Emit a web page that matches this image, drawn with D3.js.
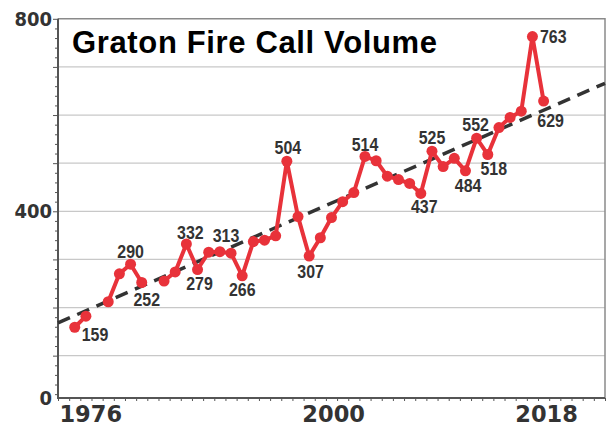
<!DOCTYPE html>
<html><head><meta charset="utf-8">
<script src="https://cdn.jsdelivr.net/npm/d3@7"></script>
<style>
html,body{margin:0;padding:0;background:#fff;}
svg{display:block;}
</style></head><body>
<svg id="chart" width="611" height="427"></svg>
<script>
// ---- data ----
const years = d3.range(1976, 2019);
const calls = [159,182,null,212,270,290,252,null,255,274,332,279,315,316,313,266,337,340,349,504,
               389,307,345,387,420,439,514,505,473,466,458,437,525,493,510,484,552,518,574,595,608,763,629];
const labeledYears = [1976,1981,1982,1986,1987,1990,1991,1995,1997,2002,2007,2008,2011,2012,2013,2017,2018];
const trendYears = [1974.5, 2023.5];
const trendValues = [168, 666];
const xTickLabels = [1976, 2000, 2018];
const yLabelValues = [12, 400, 800];
const yLabelText = ["0", "400", "800"];
const title = "Graton Fire Call Volume";

// ---- layout / style ----
const W = 611, H = 427;
const plot = {left: 58, right: 605, top: 18.8, bottom: 398};
const labelOffsets = {
  1976: [7, 14, "start"], 1981: [0, -6, "middle"], 1982: [5, 23, "middle"],
  1986: [4, -5, "middle"], 1987: [2, 20, "middle"], 1990: [-5, -11, "middle"],
  1991: [0, 20, "middle"], 1995: [1, -7, "middle"], 1997: [1.5, 22, "middle"],
  2002: [0, -5, "middle"], 2007: [3.5, 20, "middle"], 2008: [0, -7, "middle"],
  2011: [2.7, 21.5, "middle"], 2012: [-1, -7.5, "middle"], 2013: [6, 20.5, "middle"],
  2017: [7.5, 6, "start"], 2018: [7, 25.5, "middle"]
};
const xLabelDx = {1976: 16, 2000: -9, 2018: 3};
const red = "#e8323a";
const ink = "#333333";

const data = years.map((y, i) => ({year: y, value: calls[i]}));

const x = d3.scaleLinear().domain([1974.5, 2023.5]).range([plot.left, plot.right]);
const y = d3.scaleLinear().domain([12, 800]).range([plot.bottom, plot.top]);

const svg = d3.select("#chart");

// gridlines
svg.append("g").selectAll("line")
  .data(d3.range(100, 800, 100))
  .join("line")
  .attr("x1", plot.left).attr("x2", plot.right)
  .attr("y1", d => y(d)).attr("y2", d => y(d))
  .attr("stroke", "#c8c8c8").attr("stroke-width", 1.2);

// frame top/right
svg.append("path")
  .attr("d", `M${plot.left},${plot.top}H${plot.right}V${plot.bottom}`)
  .attr("fill", "none").attr("stroke", "#8a8a8a").attr("stroke-width", 1.5);

// y axis: minor + major ticks
const yMinor = svg.append("g").attr("transform", `translate(${plot.left},0)`)
  .call(d3.axisLeft(y).tickValues(d3.range(20, 800, 20).filter(v => v % 100 !== 0)).tickSize(3).tickFormat(""));
const yMajor = svg.append("g").attr("transform", `translate(${plot.left},0)`)
  .call(d3.axisLeft(y).tickValues(d3.range(100, 801, 100)).tickSize(5).tickFormat(""));
[yMinor, yMajor].forEach(g => {
  g.select(".domain").remove();
  g.selectAll("line").attr("stroke", "#555").attr("stroke-width", 1);
});

// x axis minor ticks
const xAx = svg.append("g").attr("transform", `translate(0,${plot.bottom})`)
  .call(d3.axisBottom(x).tickValues(d3.range(1974.5, 2024, 1)).tickSize(3).tickFormat(""));
xAx.select(".domain").remove();
xAx.selectAll("line").attr("stroke", "#555").attr("stroke-width", 1);

// axis lines
svg.append("path")
  .attr("d", `M${plot.left},${plot.top}V${plot.bottom}H${plot.right}`)
  .attr("fill", "none").attr("stroke", "#555").attr("stroke-width", 2);

// y labels
svg.append("g").selectAll("text")
  .data(yLabelValues)
  .join("text")
  .attr("x", plot.left - 6)
  .attr("y", d => y(d))
  .attr("dy", "0.36em")
  .attr("text-anchor", "end")
  .attr("font-family", "'DejaVu Sans Condensed', 'DejaVu Sans', sans-serif")
  .attr("font-stretch", "condensed")
  .attr("font-weight", "bold")
  .attr("font-size", 20)
  .attr("fill", ink)
  .text((d, i) => yLabelText[i]);

// x labels
svg.append("g").selectAll("text")
  .data(xTickLabels)
  .join("text")
  .attr("x", d => x(d) + xLabelDx[d])
  .attr("y", 421.5)
  .attr("text-anchor", "middle")
  .attr("font-family", "'DejaVu Sans', sans-serif")
  .attr("font-weight", "bold")
  .attr("font-size", 22.5)
  .attr("fill", ink)
  .text(d => d);

// title
svg.append("text")
  .attr("x", 72).attr("y", 53)
  .attr("font-family", "'Liberation Sans', Arial, sans-serif")
  .attr("font-weight", "bold")
  .attr("font-size", 31)
  .attr("textLength", 365)
  .attr("lengthAdjust", "spacing")
  .attr("fill", "#000")
  .text(title);

// trend line
svg.append("line")
  .attr("x1", x(trendYears[0])).attr("y1", y(trendValues[0]))
  .attr("x2", x(trendYears[1])).attr("y2", y(trendValues[1]))
  .attr("stroke", "#333").attr("stroke-width", 3.5)
  .attr("stroke-dasharray", "13,8");

// series line
const line = d3.line().defined(d => d.value != null).x(d => x(d.year)).y(d => y(d.value));
svg.append("path")
  .datum(data)
  .attr("d", line)
  .attr("fill", "none")
  .attr("stroke", red)
  .attr("stroke-width", 4)
  .attr("stroke-linejoin", "round");

svg.append("g").selectAll("circle")
  .data(data.filter(d => d.value != null))
  .join("circle")
  .attr("cx", d => x(d.year)).attr("cy", d => y(d.value))
  .attr("r", 5.5).attr("fill", red);

// value labels (horizontally condensed bold sans)
svg.append("g").selectAll("text")
  .data(data.filter(d => labeledYears.includes(d.year)))
  .join("text")
  .attr("transform", d => `translate(${x(d.year) + labelOffsets[d.year][0]},${y(d.value) + labelOffsets[d.year][1]}) scale(0.84,1)`)
  .attr("text-anchor", d => labelOffsets[d.year][2])
  .attr("font-family", "'Liberation Sans', Arial, sans-serif")
  .attr("font-weight", "bold")
  .attr("font-size", 19)
  .attr("fill", ink)
  .text(d => d.value);
</script>
</body></html>
